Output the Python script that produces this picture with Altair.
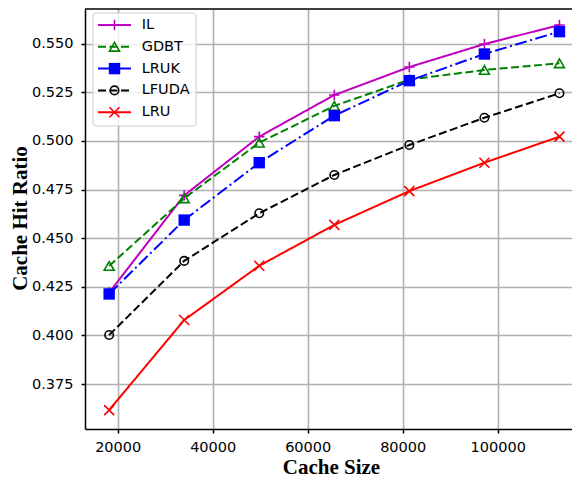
import altair as alt
import pandas as pd

# ---- data ----
cache_sizes = [18200, 34000, 49800, 65600, 81400, 97200, 113000]
series_names = ["IL", "GDBT", "LRUK", "LFUDA", "LRU"]
il = [0.4220, 0.4720, 0.5022, 0.5236, 0.5380, 0.5498, 0.5596]
gdbt = [0.4357, 0.4705, 0.4991, 0.5180, 0.5315, 0.5365, 0.5399]
lruk = [0.4213, 0.4593, 0.4888, 0.5130, 0.5310, 0.5447, 0.5562]
lfuda = [0.4002, 0.4383, 0.4628, 0.4825, 0.4979, 0.5119, 0.5245]
lru = [0.3616, 0.4079, 0.4358, 0.4568, 0.4742, 0.4888, 0.5022]
series_values = [il, gdbt, lruk, lfuda, lru]

x_ticks = [20000, 40000, 60000, 80000, 100000]
y_ticks = [0.375, 0.400, 0.425, 0.450, 0.475, 0.500, 0.525, 0.550]

# ---- styles ----
colors = ["#bf00bf", "#008000", "#0000ff", "#000000", "#ff0000"]
dashes = [[1, 0], [8, 3.5], [12, 3.5, 2, 3.5], [8, 3.5], [1, 0]]
PLUS = "M-1,0L1,0M0,-1L0,1"
XMARK = "M-1,-1L1,1M-1,1L1,-1"
shapes = [PLUS, "triangle-up", "square", "circle", XMARK]
sizes = [110, 100, 130, 72, 100]
filled = [False, False, True, False, False]

W, H = 487, 420
xscale = alt.Scale(domain=[13116, 115642], nice=False, zero=False)
yscale = alt.Scale(domain=[0.35186, 0.56784], nice=False, zero=False)

xenc = alt.X("size:Q", scale=xscale,
             axis=alt.Axis(title="Cache Size", values=x_ticks, format="d",
                           labelPadding=7, titleX=246, titleY=44,
                           titleAlign="center", titleBaseline="alphabetic"))
yenc = alt.Y("ratio:Q", scale=yscale,
             axis=alt.Axis(title="Cache Hit Ratio", values=y_ticks, format=".3f",
                           labelPadding=8, titleX=-59, titleY=209,
                           titleAngle=270, titleAlign="center",
                           titleBaseline="alphabetic"))

layers = []
for name, vals, col, dash, shp, sz, fl in zip(series_names, series_values, colors,
                                              dashes, shapes, sizes, filled):
    df = pd.DataFrame({"size": cache_sizes, "ratio": vals, "series": name})
    line = alt.Chart(df).mark_line(color=col, strokeDash=dash, strokeWidth=2).encode(
        x=xenc, y=yenc)
    pts = alt.Chart(df).mark_point(
        shape=shp, size=sz, filled=fl, color=col, strokeWidth=1.6,
        opacity=1).encode(x=xenc, y=yenc)
    layers += [line, pts]

# top frame line
frame_top = alt.Chart(pd.DataFrame({"a": [0]})).mark_rule(
    color="black", strokeWidth=1.5).encode(
    x=alt.value(0), x2=alt.value(W), y=alt.value(0))
layers.append(frame_top)

# legend
legend_box = alt.Chart(pd.DataFrame({"a": [0]})).mark_rect(
    fill="white", fillOpacity=0.8, stroke="#cccccc", strokeWidth=1,
    cornerRadius=3).encode(
    x=alt.value(8), x2=alt.value(111), y=alt.value(4), y2=alt.value(117))
layers.append(legend_box)

leg_top, leg_step = 16, 21.8
for i, (name, col, dash, shp, sz, fl) in enumerate(zip(series_names, colors, dashes,
                                                      shapes, sizes, filled)):
    d = pd.DataFrame({"series": [name]})
    yy = leg_top + i * leg_step
    layers.append(alt.Chart(d).mark_rule(color=col, strokeDash=dash, strokeWidth=2).encode(
        x=alt.value(13), x2=alt.value(46), y=alt.value(yy)))
    layers.append(alt.Chart(d).mark_point(shape=shp, size=sz, filled=fl, color=col,
                                          strokeWidth=1.6, opacity=1).encode(
        x=alt.value(29.5), y=alt.value(yy)))
    layers.append(alt.Chart(d).mark_text(align="left", baseline="middle",
                                         font="DejaVu Sans", fontSize=14.5,
                                         color="black").encode(
        x=alt.value(56.7), y=alt.value(yy), text="series:N"))

chart = alt.layer(*layers).properties(
    width=W, height=H,
    padding={"left": 77, "top": 1, "right": 0, "bottom": 51},
    autosize=alt.AutoSizeParams(type="none"),
).configure_view(stroke=None).configure_axis(
    grid=True, gridColor="#b0b0b0", gridWidth=1.6,
    domainColor="black", domainWidth=1.5,
    tickColor="black", tickWidth=1.5, tickSize=4,
    labelFont="DejaVu Sans", labelFontSize=14.5, labelColor="black",
    titleFont="Liberation Serif", titleFontWeight="bold", titleFontSize=21,
    titleColor="black",
)

chart.save("out.html", embed_options={"renderer": "svg", "actions": False})
